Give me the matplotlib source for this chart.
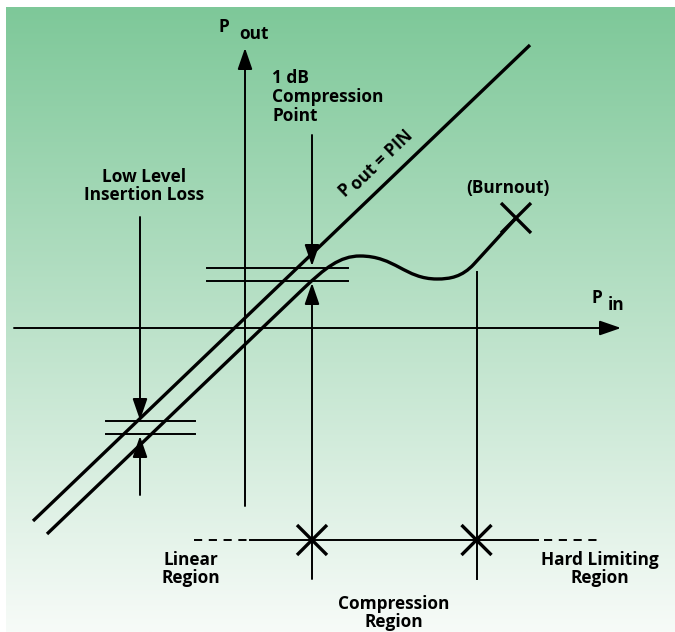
import numpy as np
import matplotlib
matplotlib.use("Agg")
import matplotlib.pyplot as plt
from matplotlib.path import Path
from matplotlib.patches import PathPatch

plt.rcParams['font.family'] = ['Open Sans', 'DejaVu Sans']

# diagram geometry, in pixel units of the 675x632 picture (y grows downward)
bg_top = (126, 200, 153)
bg_bottom = (247, 251, 248)

pout_axis = [(245, 506), (245, 48)]
pin_axis = [(14, 328), (621, 328)]

ideal_line = [(33, 521), (530, 45)]

# real response: straight part then compression bump to burnout
real_pts = [(47, 534), (303, 289),
            (325, 268), (340, 256), (360, 256),
            (395, 256), (405, 279), (437, 279),
            (450, 279), (462, 277), (474, 264),
            (516, 218)]
real_codes = [Path.MOVETO, Path.LINETO,
              Path.CURVE4, Path.CURVE4, Path.CURVE4,
              Path.CURVE4, Path.CURVE4, Path.CURVE4,
              Path.CURVE4, Path.CURVE4, Path.CURVE4,
              Path.LINETO]

comp_levels = [268, 281]
comp_span = [207, 348]
loss_levels = [421, 434]
loss_span = [106, 195]

# (start, tip) of the marker arrows
arrows = [((312, 135), (312, 266)),
          ((312, 579), (312, 283)),
          ((140, 217), (140, 420)),
          ((140, 495), (140, 436))]

region_vlines = [(476.5, 272, 579)]
region_y = 540
region_solid = [250, 538]
region_dash_left = [194, 250]
region_dash_right = [544, 597]
x_marks = [(312, 540), (476.5, 540), (516, 218)]
x_half = 15

fig = plt.figure(figsize=(6.75, 6.32), dpi=100)
ax = fig.add_axes([0, 0, 1, 1])
ax.set_xlim(0, 675)
ax.set_ylim(632, 0)
ax.axis('off')

# gradient background
grad = np.linspace(0, 1, 256)[:, None]
top = np.array(bg_top) / 255
bot = np.array(bg_bottom) / 255
img = top[None, None, :] * (1 - grad[:, :, None]) + bot[None, None, :] * grad[:, :, None]
ax.imshow(img, extent=[6, 675, 632, 7], aspect='auto', zorder=0)

thin = 1.4
thick = 2.4
k = 'black'

def arrow(p0, p1, lw=thin):
    ax.annotate('', xy=p1, xytext=p0,
                arrowprops=dict(arrowstyle='-|>,head_length=1.3,head_width=0.45',
                                mutation_scale=10, color=k, lw=lw,
                                shrinkA=0, shrinkB=0), zorder=3)

# axes
arrow(pout_axis[0], pout_axis[1])
arrow(pin_axis[0], pin_axis[1])

# ideal and real characteristic
ax.plot([p[0] for p in ideal_line], [p[1] for p in ideal_line], color=k, lw=thick,
        solid_capstyle='butt', zorder=4)
ax.add_patch(PathPatch(Path(real_pts, real_codes), fill=False, ec=k, lw=thick,
                       capstyle='butt', zorder=4))

# reference level lines
for y in comp_levels:
    ax.plot(comp_span, [y, y], color=k, lw=thin, zorder=2)
for y in loss_levels:
    ax.plot(loss_span, [y, y], color=k, lw=thin, zorder=2)

for p0, p1 in arrows:
    arrow(p0, p1)

for x, y0, y1 in region_vlines:
    ax.plot([x, x], [y0, y1], color=k, lw=thin, zorder=2)

# region scale
dash = (0, (4.2, 3.4))
ax.plot(region_solid, [region_y, region_y], color=k, lw=thin, zorder=2)
ax.plot(region_dash_left, [region_y, region_y], color=k, lw=thin, ls=dash, zorder=2)
ax.plot(region_dash_right, [region_y, region_y], color=k, lw=thin, ls=dash, zorder=2)

for cx, cy in x_marks:
    ax.plot([cx - x_half, cx + x_half], [cy - x_half, cy + x_half], color=k, lw=thick,
            solid_capstyle='butt', zorder=5)
    ax.plot([cx - x_half, cx + x_half], [cy + x_half, cy - x_half], color=k, lw=thick,
            solid_capstyle='butt', zorder=5)

# labels
fs = 12.4
tkw = dict(fontsize=fs, fontweight='bold', color=k, zorder=6)
ax.text(224, 27, 'P', ha='center', va='center', **tkw)
ax.text(254, 34, 'out', ha='center', va='center', **tkw)
ax.text(597, 298, 'P', ha='center', va='center', **tkw)
ax.text(616, 305, 'in', ha='center', va='center', **tkw)

ax.text(272, 97, '1 dB\nCompression\nPoint', ha='left', va='center',
        linespacing=1.05, **tkw)
ax.text(144, 186, 'Low Level\nInsertion Loss', ha='center', va='center',
        linespacing=1.05, **tkw)
ax.text(508, 188, '(Burnout)', ha='center', va='center', **tkw)

ang = np.degrees(np.arctan2(ideal_line[0][1] - ideal_line[1][1],
                            ideal_line[1][0] - ideal_line[0][0]))
ax.text(345, 190, 'P', ha='center', va='center', rotation=ang,
        rotation_mode='anchor', **tkw)
ax.text(382, 160, 'out = PIN', ha='center', va='center', rotation=ang,
        rotation_mode='anchor', **tkw)

ax.text(191, 569, 'Linear\nRegion', ha='center', va='center', linespacing=1.05, **tkw)
ax.text(394, 613, 'Compression\nRegion', ha='center', va='center', linespacing=1.05, **tkw)
ax.text(600, 569, 'Hard Limiting\nRegion', ha='center', va='center', linespacing=1.05, **tkw)

fig.savefig('out.png', dpi=100, facecolor='white')
